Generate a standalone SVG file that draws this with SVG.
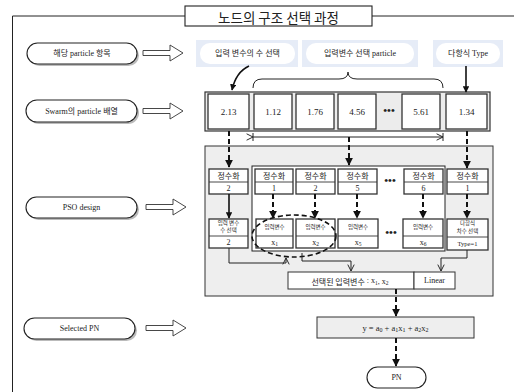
<svg xmlns="http://www.w3.org/2000/svg" width="514" height="392" viewBox="0 0 514 392">
<style>
text{font-family:"Liberation Serif","Noto Sans CJK KR",serif;fill:#222;text-anchor:middle;dominant-baseline:central}
.k{font-family:"Noto Sans CJK KR","Liberation Sans",sans-serif}
.pill{fill:#fff;stroke:#222;stroke-width:1.1}
.sh{fill:#bbb}
.cell{fill:#fff;stroke:#333;stroke-width:1.3}
.line{fill:none;stroke:#222;stroke-width:1}
.dash{fill:none;stroke:#111;stroke-width:2;stroke-dasharray:5 3}
.solid{fill:none;stroke:#111;stroke-width:1.6}
.thin{fill:none;stroke:#333;stroke-width:0.9}
.blk{fill:#fff;stroke:#333;stroke-width:0.9}
.lbl{fill:#e6ecf7}
</style>
<defs>
<marker id="ah" viewBox="0 0 10 10" refX="9" refY="5" markerWidth="4" markerHeight="4" orient="auto"><path d="M0,0 L10,5 L0,10 z" fill="#111"/></marker>
<marker id="as" viewBox="0 0 10 10" refX="9" refY="5" markerWidth="8" markerHeight="8" orient="auto"><path d="M1,1 L9,5 L1,9" fill="none" stroke="#222" stroke-width="1.2"/></marker>
<path id="blockarrow" d="M0,-2.5 L27,-2.5 L27,-8 L40,0 L27,8 L27,2.5 L0,2.5 z"/>
</defs>

<g id="frame">
<polyline class="line" points="185,16 12.5,16 12.5,392" stroke-width="1.2"/>
<line class="line" x1="372" y1="16" x2="514" y2="16" stroke-width="1.2"/>
<rect x="185" y="6" width="187" height="20" fill="#fff" stroke="#222" stroke-width="1.1"/>
<text x="278.5" y="16.5" class="k" font-size="13.5">노드의 구조 선택 과정</text>
</g>

<g id="label-particle-item">
<rect class="sh" x="29" y="45" width="110" height="21" rx="10.5"/>
<rect class="pill" x="27" y="43" width="110" height="21" rx="10.5"/>
<text x="82" y="53.5" font-size="8">해당 particle 항목</text>
<use href="#blockarrow" x="143" y="53" class="blk"/>
</g>
<g id="label-swarm">
<rect class="sh" x="28" y="102" width="111" height="22" rx="11"/>
<rect class="pill" x="26" y="100" width="111" height="22" rx="11"/>
<text x="81.5" y="111" font-size="8">Swarm의 particle 배열</text>
<use href="#blockarrow" x="143" y="111" class="blk"/>
</g>
<g id="label-pso">
<rect class="sh" x="28" y="199" width="111" height="21" rx="10.5"/>
<rect class="pill" x="26" y="197" width="111" height="21" rx="10.5"/>
<text x="81.5" y="207.5" font-size="8">PSO design</text>
<use href="#blockarrow" x="146" y="207" class="blk"/>
</g>
<g id="label-selected">
<rect class="sh" x="26" y="320" width="111" height="21" rx="10.5"/>
<rect class="pill" x="24" y="318" width="111" height="21" rx="10.5"/>
<text x="79.5" y="328.5" font-size="8">Selected PN</text>
<use href="#blockarrow" x="146" y="328" class="blk"/>
</g>

<g id="hdr-num">
<rect class="lbl" x="196" y="40" width="102" height="27"/>
<rect x="200" y="43" width="95" height="21" rx="10" fill="#fff"/>
<text x="247.5" y="53.5" font-size="8">입력 변수의 수 선택</text>
</g>
<g id="hdr-sel">
<rect class="lbl" x="302" y="40" width="116" height="27"/>
<rect x="306" y="43" width="108" height="21" rx="10" fill="#fff"/>
<text x="360" y="53.5" font-size="8">입력변수 선택 particle</text>
</g>
<g id="hdr-type">
<rect class="lbl" x="433" y="40" width="70" height="27"/>
<rect x="436" y="43" width="64" height="21" rx="10" fill="#fff"/>
<text x="468" y="53.5" font-size="8">다항식 Type</text>
</g>

<g id="array">
<rect x="205" y="92" width="285" height="39" fill="#ececec" stroke="#333" stroke-width="1.2"/>
<rect class="cell" x="208" y="94" width="41" height="35"/><text x="228.5" y="111.5" font-size="9">2.13</text>
<rect class="cell" x="254" y="94" width="38" height="35"/><text x="273" y="111.5" font-size="9">1.12</text>
<rect class="cell" x="296" y="94" width="38" height="35"/><text x="315" y="111.5" font-size="9">1.76</text>
<rect class="cell" x="338" y="94" width="38" height="35"/><text x="357" y="111.5" font-size="9">4.56</text>
<text x="389" y="110" font-size="11" font-weight="bold">•••</text>
<rect class="cell" x="402" y="94" width="38" height="35"/><text x="421" y="111.5" font-size="9">5.61</text>
<rect class="cell" x="446" y="94" width="41" height="35"/><text x="466.5" y="111.5" font-size="9">1.34</text>
</g>

<g id="pso-box">
<rect x="205" y="146" width="288" height="150" fill="#eeeeee" stroke="#333" stroke-width="1"/>
<rect x="252" y="166" width="193" height="85" fill="#fff" stroke="#222" stroke-width="1"/>
</g>

<g id="int-row">
<rect class="cell" x="209" y="169" width="39" height="25"/><line class="thin" x1="209" y1="182" x2="248" y2="182"/>
<text x="228.5" y="175.5" class="k" font-size="8">정수화</text><text x="228.5" y="188" font-size="8">2</text>
<rect class="cell" x="255" y="169" width="38" height="25"/><line class="thin" x1="255" y1="182" x2="293" y2="182"/>
<text x="274" y="175.5" class="k" font-size="8">정수화</text><text x="274" y="188" font-size="8">1</text>
<rect class="cell" x="296" y="169" width="39" height="25"/><line class="thin" x1="296" y1="182" x2="335" y2="182"/>
<text x="315.5" y="175.5" class="k" font-size="8">정수화</text><text x="315.5" y="188" font-size="8">2</text>
<rect class="cell" x="338" y="169" width="39" height="25"/><line class="thin" x1="338" y1="182" x2="377" y2="182"/>
<text x="357.5" y="175.5" class="k" font-size="8">정수화</text><text x="357.5" y="188" font-size="8">5</text>
<text x="390" y="180" font-size="11" font-weight="bold">•••</text>
<rect class="cell" x="404" y="169" width="39" height="25"/><line class="thin" x1="404" y1="182" x2="443" y2="182"/>
<text x="423.5" y="175.5" class="k" font-size="8">정수화</text><text x="423.5" y="188" font-size="8">6</text>
<rect class="cell" x="447" y="169" width="41" height="25"/><line class="thin" x1="447" y1="182" x2="488" y2="182"/>
<text x="467.5" y="175.5" class="k" font-size="8">정수화</text><text x="467.5" y="188" font-size="8">1</text>
</g>

<g id="var-row">
<rect class="cell" x="209" y="219" width="39" height="29"/><line class="thin" x1="209" y1="236" x2="248" y2="236"/>
<text x="228.5" y="223" class="k" font-size="5.5">입력 변수</text><text x="228.5" y="230" class="k" font-size="5.5">수 선택</text><text x="228.5" y="242" font-size="8">2</text>
<rect class="cell" x="256" y="219" width="37" height="29"/><line class="thin" x1="256" y1="236" x2="293" y2="236"/>
<text x="274.5" y="227" class="k" font-size="5.5">입력변수</text><text x="274.5" y="242" font-size="8">x<tspan font-size="5.5" dy="2">1</tspan></text>
<rect class="cell" x="296" y="219" width="39" height="29"/><line class="thin" x1="296" y1="236" x2="335" y2="236"/>
<text x="315.5" y="227" class="k" font-size="5.5">입력변수</text><text x="315.5" y="242" font-size="8">x<tspan font-size="5.5" dy="2">2</tspan></text>
<rect class="cell" x="338" y="219" width="40" height="29"/><line class="thin" x1="338" y1="236" x2="378" y2="236"/>
<text x="358" y="227" class="k" font-size="5.5">입력변수</text><text x="358" y="242" font-size="8">x<tspan font-size="5.5" dy="2">5</tspan></text>
<text x="391" y="232" font-size="11" font-weight="bold">•••</text>
<rect class="cell" x="403" y="219" width="40" height="29"/><line class="thin" x1="403" y1="236" x2="443" y2="236"/>
<text x="423" y="227" class="k" font-size="5.5">입력변수</text><text x="423" y="242" font-size="8">x<tspan font-size="5.5" dy="2">6</tspan></text>
<rect class="cell" x="447" y="219" width="41" height="31"/><line class="thin" x1="447" y1="237" x2="488" y2="237"/>
<text x="467.5" y="223" class="k" font-size="5.5">다항식</text><text x="467.5" y="230.5" class="k" font-size="5.5">차수 선택</text><text x="467.5" y="243.5" font-size="6.5">Type=1</text>
</g>

<g id="selected-inputs">
<rect x="288" y="272" width="126" height="17" fill="#fff" stroke="#333" stroke-width="1"/>
<text x="350" y="280.5" font-size="8"><tspan class="k">선택된 입력변수</tspan> : x<tspan font-size="5.5" dy="2">1</tspan><tspan dy="-2">, x</tspan><tspan font-size="5.5" dy="2">2</tspan></text>
<rect x="414" y="272" width="41" height="17" fill="#fff" stroke="#333" stroke-width="1"/>
<text x="434.5" y="280.5" font-size="8">Linear</text>
</g>

<g id="equation">
<rect x="317" y="317" width="157" height="21" fill="#eeeeee" stroke="#333" stroke-width="1"/>
<text x="395.5" y="327.5" font-size="8.5">y = a<tspan font-size="6" dy="2">0</tspan><tspan dy="-2"> + a</tspan><tspan font-size="6" dy="2">1</tspan><tspan dy="-2">x</tspan><tspan font-size="6" dy="2">1</tspan><tspan dy="-2"> + a</tspan><tspan font-size="6" dy="2">2</tspan><tspan dy="-2">x</tspan><tspan font-size="6" dy="2">2</tspan></text>
</g>

<g id="pn">
<rect class="pill" x="367" y="367" width="59" height="21" rx="10.5"/>
<text x="396.5" y="377.5" font-size="8">PN</text>
</g>

<g id="connectors">
<path class="solid" d="M249,66 Q236,72 232,90" marker-end="url(#ah)"/>
<path class="line" stroke-width="1.3" d="M253,88 Q253,79 262,79 L339,79 Q348,79 348,72 Q348,79 357,79 L434,79 Q443,79 443,88"/>
<line class="solid" x1="466" y1="66" x2="466" y2="92" marker-end="url(#ah)"/>
<line class="line" x1="253" y1="137" x2="443" y2="137" marker-start="url(#as)" marker-end="url(#as)"/>
<line class="line" x1="253" y1="133" x2="253" y2="141"/>
<line class="line" x1="443" y1="133" x2="443" y2="141"/>
<line class="dash" x1="229" y1="131" x2="229" y2="167" marker-end="url(#ah)"/>
<line class="dash" x1="349" y1="137" x2="349" y2="165" marker-end="url(#ah)"/>
<line class="dash" x1="467" y1="131" x2="467" y2="168" marker-end="url(#ah)"/>
<line class="solid" x1="229" y1="194" x2="229" y2="218" marker-end="url(#ah)"/>
<line class="dash" x1="273" y1="194" x2="273" y2="218" marker-end="url(#ah)"/>
<line class="dash" x1="315" y1="194" x2="315" y2="218" marker-end="url(#ah)"/>
<line class="dash" x1="357" y1="194" x2="357" y2="218" marker-end="url(#ah)"/>
<line class="dash" x1="423" y1="194" x2="423" y2="218" marker-end="url(#ah)"/>
<line class="dash" x1="467" y1="194" x2="467" y2="218" marker-end="url(#ah)"/>
<ellipse cx="294" cy="236" rx="42" ry="21" fill="none" stroke="#111" stroke-width="1.6" stroke-dasharray="5 3"/>
<polyline class="line" points="229,248 229,263 286,263 286,258" marker-end="url(#as)"/>
<polyline class="line" points="302,253 302,261 351,261 351,271" marker-end="url(#as)"/>
<polyline class="line" points="467,250 467,258 441,258 441,271" marker-end="url(#as)"/>
<line class="dash" x1="396" y1="289" x2="396" y2="316" marker-end="url(#ah)"/>
<line class="dash" x1="396" y1="338" x2="396" y2="366" marker-end="url(#ah)"/>
</g>
</svg>
